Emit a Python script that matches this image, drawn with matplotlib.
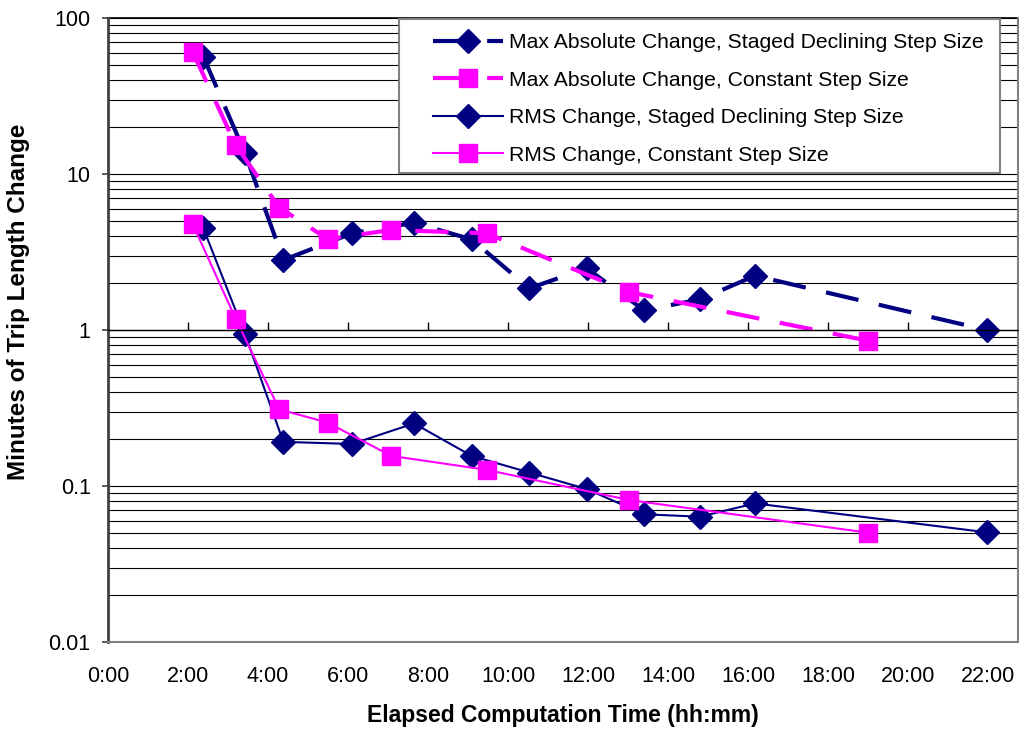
import matplotlib
matplotlib.use("Agg")

import matplotlib.pyplot as plt
from matplotlib.patches import Rectangle
from matplotlib.ticker import LogLocator, FixedLocator, FuncFormatter, NullFormatter

plt.rcParams["font.family"] = ["Liberation Sans", "DejaVu Sans"]

# ── Data (elapsed minutes, minutes of trip length change) ───────────
staged_t = [143, 205.5, 263, 366, 459, 545.5, 632, 718, 804, 888, 970.5, 1318]
const_t = [127, 191.5, 257, 329.5, 425, 568, 782, 1140.5]

max_staged = [56.5, 13.6, 2.81, 4.17, 4.87, 3.81, 1.85, 2.49, 1.34, 1.57, 2.23, 1.0]
max_const = [60.8, 15.3, 6.1, 3.83, 4.38, 4.17, 1.75, 0.853]
rms_staged = [4.49, 0.94, 0.192, 0.186, 0.252, 0.156, 0.122, 0.0957, 0.0659, 0.0636, 0.0774, 0.0505]
rms_const = [4.78, 1.18, 0.31, 0.255, 0.156, 0.127, 0.0813, 0.0502]

labels = [
    "Max Absolute Change, Staged Declining Step Size",
    "Max Absolute Change, Constant Step Size",
    "RMS Change, Staged Declining Step Size",
    "RMS Change, Constant Step Size",
]

NAVY = "#000080"
MAGENTA = "#FF00FF"

fig = plt.figure(figsize=(10.19, 7.30), dpi=100)
ax = fig.add_axes([0.106, 0.1205, 0.8927, 0.8548])

ax.plot(staged_t, max_staged, color=NAVY, lw=3, dashes=(8, 5), marker="D",
        ms=12.5, mec=NAVY, mfc=NAVY, label=labels[0])
ax.plot(const_t, max_const, color=MAGENTA, lw=3, dashes=(8, 5), marker="s",
        ms=13, mec=MAGENTA, mfc=MAGENTA, label=labels[1])
ax.plot(staged_t, rms_staged, color=NAVY, lw=1.5, marker="D",
        ms=12.5, mec=NAVY, mfc=NAVY, label=labels[2])
ax.plot(const_t, rms_const, color=MAGENTA, lw=1.5, marker="s",
        ms=13, mec=MAGENTA, mfc=MAGENTA, label=labels[3])

# ── Axes ────────────────────────────────────────────────────────────
ax.set_yscale("log")
ax.set_ylim(0.01, 100)
ax.set_xlim(0, 1364.5)

ax.yaxis.set_major_locator(FixedLocator([0.01, 0.1, 1, 10, 100]))
ax.yaxis.set_major_formatter(FuncFormatter(lambda v, p: f"{v:g}"))
ax.yaxis.set_minor_locator(LogLocator(base=10, subs=range(2, 10)))
ax.yaxis.set_minor_formatter(NullFormatter())
ax.grid(True, axis="y", which="both", color="black", lw=0.8)
ax.set_axisbelow(True)

ax.xaxis.set_major_locator(FixedLocator(range(0, 1321, 120)))
ax.xaxis.set_major_formatter(FuncFormatter(lambda v, p: f"{int(v // 60)}:{int(v % 60):02d}"))

# x axis crosses at y = 1, labels stay at the bottom
ax.spines["top"].set_position(("data", 1))
ax.spines["top"].set_color("black")
ax.spines["top"].set_linewidth(1.0)
ax.spines["bottom"].set_color("#808080")
ax.spines["bottom"].set_linewidth(1.5)
ax.spines["right"].set_color("#808080")
ax.spines["right"].set_linewidth(1.5)
ax.spines["left"].set_color("#404040")
ax.spines["left"].set_linewidth(2)
ax.axhline(100, color="black", lw=1.2, clip_on=False, zorder=1)

ax.tick_params(axis="x", which="major", bottom=False, top=True, labelbottom=True,
               labeltop=False, direction="out", length=6, width=1, pad=11,
               labelsize=15.5)
ax.tick_params(axis="y", which="major", direction="out", length=4.5, width=1.2,
               color="#404040", labelsize=15.5, pad=8)
ax.tick_params(axis="y", which="minor", length=0)

ax.set_xlabel("Elapsed Computation Time (hh:mm)", fontsize=16.5, fontweight="bold")
ax.set_ylabel("Minutes of Trip Length Change", fontsize=17.5, fontweight="bold")
ax.xaxis.set_label_coords(0.5, -0.099)
ax.yaxis.set_label_coords(-0.0857, 0.545)

# legend: gray box with the entries indented from its left edge
ax.add_patch(Rectangle((0.320, 0.7516), 0.6605, 0.2468, transform=ax.transAxes,
                       facecolor="white", edgecolor="#808080", lw=1.5, zorder=4))
leg = ax.legend(loc="upper left", bbox_to_anchor=(0.357, 0.976), frameon=False,
                fontsize=15.2, handlelength=3.35, handletextpad=0.25,
                labelspacing=0.88, borderpad=0, borderaxespad=0)
leg.set_zorder(5)

fig.savefig("out.png", dpi=100)
